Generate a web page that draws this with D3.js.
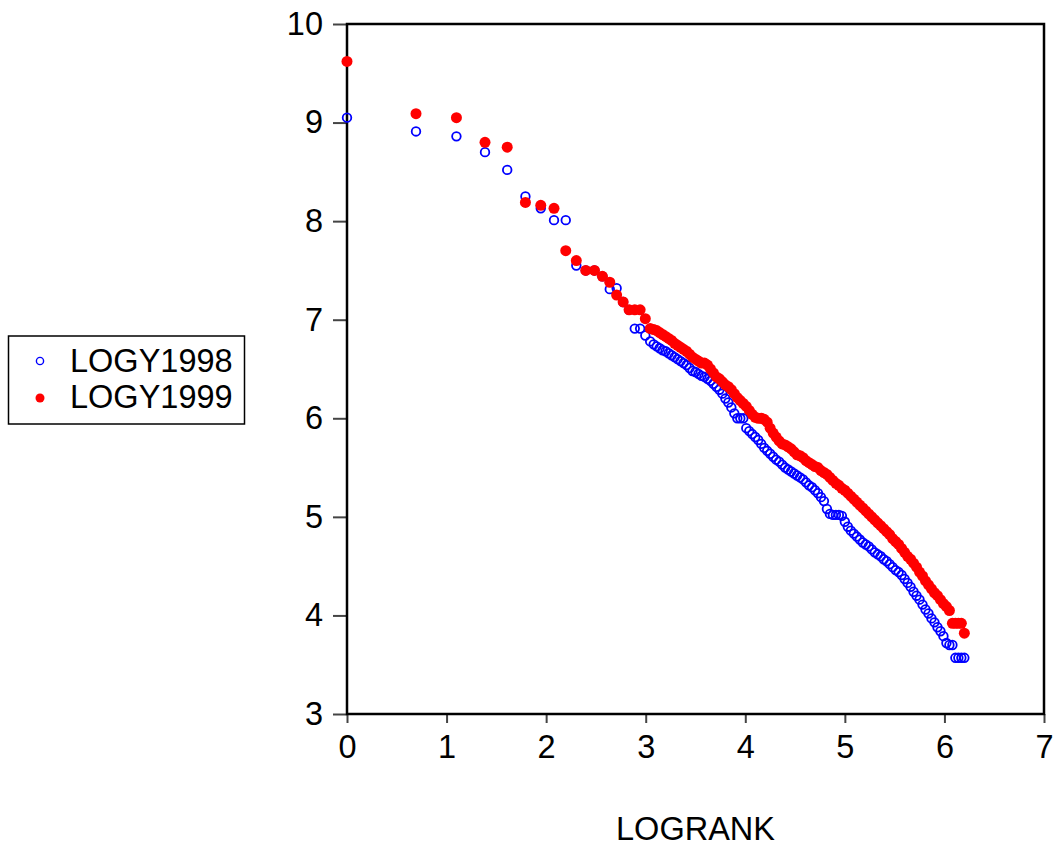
<!DOCTYPE html>
<html>
<head>
<meta charset="utf-8">
<script src="https://cdn.jsdelivr.net/npm/d3@7"></script>
<style>
  body { margin: 0; background: #fff; }
  text { font-family: "Liberation Sans", Arial, sans-serif; fill: #000; }
</style>
</head>
<body>
<div id="chart"></div>
<script>
// LOGRANK column (shared x for both series)
const logrank = [
  0, 0.693, 1.099, 1.386, 1.609, 1.792, 1.946, 2.079, 2.197, 2.303,
  2.398, 2.485, 2.565, 2.639, 2.708, 2.773, 2.833, 2.890, 2.944, 2.996, 3.045,
  3.08, 3.11, 3.14, 3.17, 3.20, 3.23, 3.26, 3.29, 3.32, 3.35, 3.38, 3.41, 3.44, 3.47, 3.50,
  3.53, 3.56, 3.59, 3.62, 3.65, 3.68, 3.71, 3.74, 3.77, 3.80, 3.83, 3.86, 3.89, 3.92, 3.95,
  3.98, 4.01, 4.04, 4.07, 4.10, 4.13, 4.16, 4.19, 4.22, 4.25, 4.28, 4.31, 4.34, 4.37, 4.40,
  4.43, 4.46, 4.49, 4.52, 4.55, 4.58, 4.61, 4.64, 4.67, 4.70, 4.73, 4.76, 4.79, 4.82, 4.85,
  4.88, 4.91, 4.94, 4.97, 5.00, 5.03, 5.06, 5.09, 5.12, 5.15, 5.18, 5.21, 5.24, 5.27, 5.30,
  5.33, 5.36, 5.39, 5.42, 5.45, 5.48, 5.51, 5.54, 5.57, 5.60, 5.63, 5.66, 5.69, 5.72, 5.75,
  5.78, 5.81, 5.84, 5.87, 5.90, 5.93, 5.96, 5.99, 6.02, 6.05, 6.08, 6.11, 6.14, 6.17, 6.20
];

const logy1998 = [
  9.05, 8.91, 8.86, 8.70, 8.52, 8.25, 8.13, 8.01, 8.01, 7.55,
  7.50, 7.50, 7.44, 7.31, 7.32, 7.18, 7.10, 6.91, 6.91, 6.84, 6.78,
  6.75, 6.73, 6.71, 6.69, 6.68, 6.66, 6.64, 6.62, 6.60, 6.58, 6.56, 6.54, 6.51, 6.48, 6.47,
  6.45, 6.43, 6.42, 6.40, 6.38, 6.35, 6.32, 6.29, 6.25, 6.20, 6.16, 6.11, 6.05, 6.00, 6.00,
  6.00, 5.90, 5.87, 5.84, 5.81, 5.78, 5.74, 5.70, 5.67, 5.64, 5.61, 5.58, 5.56, 5.53, 5.50,
  5.48, 5.46, 5.44, 5.42, 5.40, 5.38, 5.35, 5.32, 5.30, 5.27, 5.24, 5.20, 5.16, 5.08, 5.03,
  5.02, 5.02, 5.02, 5.01, 4.95, 4.90, 4.86, 4.83, 4.80, 4.77, 4.74, 4.72, 4.70, 4.67, 4.64,
  4.62, 4.60, 4.57, 4.55, 4.52, 4.49, 4.46, 4.44, 4.41, 4.37, 4.33, 4.29, 4.24, 4.20, 4.16,
  4.11, 4.06, 4.02, 3.97, 3.93, 3.88, 3.84, 3.79, 3.72, 3.70, 3.70, 3.57, 3.57, 3.57, 3.57
];

const logy1999 = [
  9.62, 9.09, 9.05, 8.80, 8.75, 8.19, 8.16, 8.13, 7.70, 7.60,
  7.50, 7.50, 7.44, 7.38, 7.25, 7.18, 7.10, 7.10, 7.10, 7.01, 6.91,
  6.90, 6.89, 6.87, 6.85, 6.83, 6.81, 6.79, 6.76, 6.74, 6.72, 6.70, 6.68, 6.65, 6.62, 6.60,
  6.58, 6.56, 6.56, 6.54, 6.50, 6.46, 6.42, 6.40, 6.37, 6.34, 6.32, 6.29, 6.25, 6.21, 6.18,
  6.15, 6.12, 6.08, 6.04, 6.01, 6.00, 6.00, 5.99, 5.96, 5.90, 5.85, 5.81, 5.77, 5.74, 5.73,
  5.71, 5.69, 5.66, 5.63, 5.62, 5.60, 5.57, 5.55, 5.53, 5.51, 5.50, 5.47, 5.45, 5.43, 5.40,
  5.37, 5.34, 5.32, 5.29, 5.27, 5.24, 5.21, 5.18, 5.15, 5.12, 5.09, 5.06, 5.03, 5.00, 4.97,
  4.94, 4.91, 4.88, 4.85, 4.82, 4.78, 4.75, 4.72, 4.68, 4.64, 4.60, 4.57, 4.53, 4.49, 4.44,
  4.40, 4.35, 4.31, 4.27, 4.23, 4.20, 4.16, 4.12, 4.09, 4.05, 3.92, 3.92, 3.92, 3.92, 3.82
];

const xTicks = [0, 1, 2, 3, 4, 5, 6, 7];
const yTicks = [3, 4, 5, 6, 7, 8, 9, 10];
const seriesNames = ["LOGY1998", "LOGY1999"];

// layout
const W = 1061, H = 846;
const plot = { left: 347, right: 1044, top: 24, bottom: 714 };
const fontSize = "32.5px";

const svg = d3.select("#chart")
  .append("svg")
  .attr("width", W)
  .attr("height", H);

const x = d3.scaleLinear().domain([0, 7]).range([plot.left, plot.right]);
const y = d3.scaleLinear().domain([3, 10]).range([plot.bottom, plot.top]);

// Y axis
const yAxis = svg.append("g")
  .attr("transform", `translate(${plot.left},0)`)
  .call(d3.axisLeft(y).tickValues(yTicks).tickFormat(d3.format("d")).tickSize(14).tickPadding(10));
yAxis.select(".domain").remove();
yAxis.selectAll(".tick line").attr("stroke", "#444").attr("stroke-width", 2);
yAxis.selectAll(".tick text")
  .style("font-size", fontSize)
  .style("font-family", "'Liberation Sans', Arial, sans-serif")
  .attr("fill", "#000");

// X axis
const xAxis = svg.append("g")
  .attr("transform", `translate(0,${plot.bottom})`)
  .call(d3.axisBottom(x).tickValues(xTicks).tickFormat(d3.format("d")).tickSize(9).tickPadding(12));
xAxis.select(".domain").remove();
xAxis.selectAll(".tick line").attr("stroke", "#444").attr("stroke-width", 2);
xAxis.selectAll(".tick text")
  .style("font-size", fontSize)
  .style("font-family", "'Liberation Sans', Arial, sans-serif")
  .attr("fill", "#000");

// frame
svg.append("rect")
  .attr("x", plot.left)
  .attr("y", plot.top)
  .attr("width", plot.right - plot.left)
  .attr("height", plot.bottom - plot.top)
  .attr("fill", "none")
  .attr("stroke", "#000")
  .attr("stroke-width", 2.5);

// x axis title
svg.append("text")
  .attr("x", (plot.left + plot.right) / 2)
  .attr("y", 840)
  .attr("text-anchor", "middle")
  .style("font-size", fontSize)
  .text("LOGRANK");

// points: 1998 open blue circles, 1999 filled red dots on top
const rows = logrank.map((v, i) => ({ lr: v, a: logy1998[i], b: logy1999[i] }));

svg.append("g").selectAll("circle")
  .data(rows)
  .join("circle")
  .attr("cx", d => x(d.lr))
  .attr("cy", d => y(d.a))
  .attr("r", 4.3)
  .attr("fill", "none")
  .attr("stroke", "#0000ff")
  .attr("stroke-width", 1.8);

svg.append("g").selectAll("circle")
  .data(rows)
  .join("circle")
  .attr("cx", d => x(d.lr))
  .attr("cy", d => y(d.b))
  .attr("r", 5.5)
  .attr("fill", "#ff0000");

// legend
const legend = svg.append("g");
legend.append("rect")
  .attr("x", 8.5).attr("y", 336)
  .attr("width", 236).attr("height", 88)
  .attr("fill", "#fff")
  .attr("stroke", "#000")
  .attr("stroke-width", 1.5);
legend.append("circle")
  .attr("cx", 40).attr("cy", 361).attr("r", 3.6)
  .attr("fill", "none").attr("stroke", "#0000ff").attr("stroke-width", 1.4);
legend.append("circle")
  .attr("cx", 40).attr("cy", 398).attr("r", 4.5)
  .attr("fill", "#ff0000");
legend.selectAll("text.lab")
  .data(seriesNames)
  .join("text")
  .attr("class", "lab")
  .attr("x", 70)
  .attr("y", (d, i) => 372 + i * 36)
  .style("font-size", fontSize)
  .text(d => d);
</script>
</body>
</html>
